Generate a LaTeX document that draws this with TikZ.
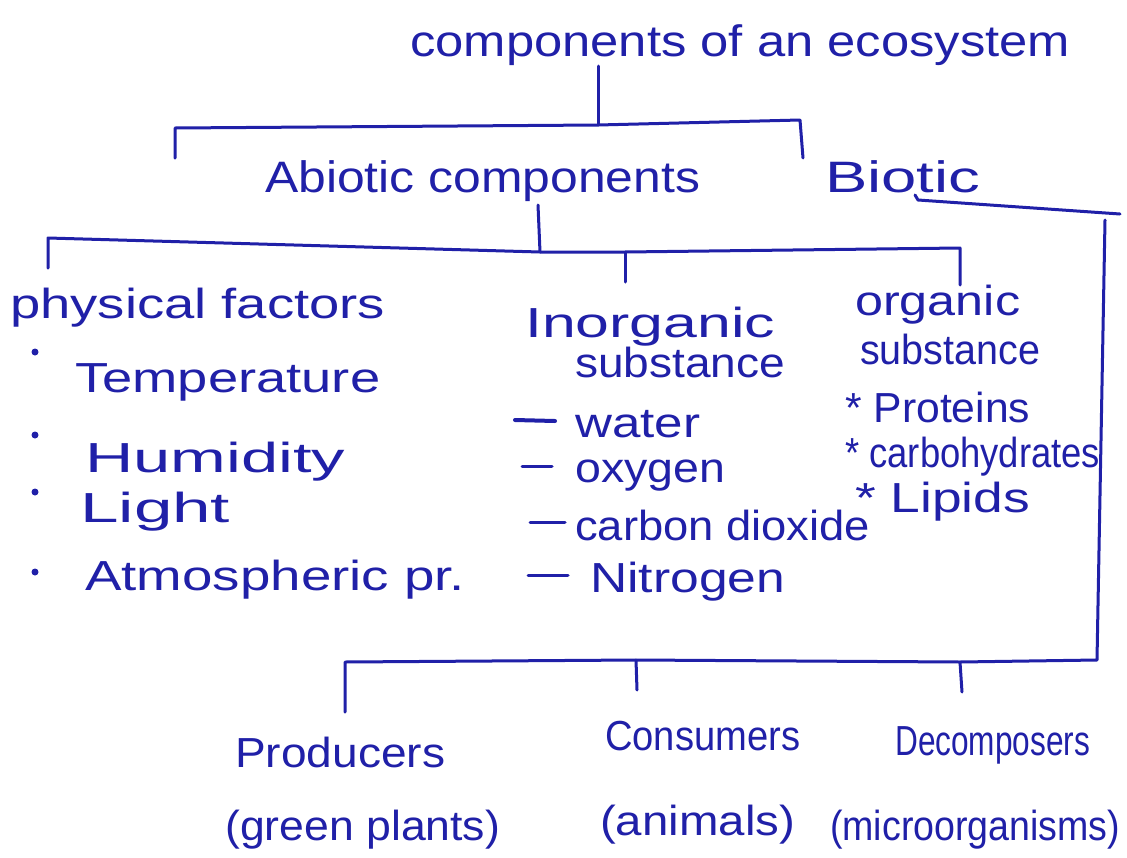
\documentclass[tikz,border=0pt]{standalone}
\usepackage{fontspec}
\setmainfont{Liberation Sans}
\usepackage{graphicx}
\definecolor{ink}{RGB}{32,32,168}
\newcommand\hw[2]{\resizebox{#1pt}{\height}{#2}}
\tikzset{
  lbl/.style={text=ink, inner sep=0pt, anchor=base west, font=\fontsize{42}{42}\selectfont},
  big/.style={lbl, font=\fontsize{44}{44}\selectfont},
  conn/.style={draw=ink, line width=3pt, line cap=round, line join=round},
  dot/.style={circle, fill=ink, inner sep=0pt, minimum size=7pt},
}
\begin{document}
\begin{tikzpicture}[x=1pt,y=-1pt]
\useasboundingbox[fill=white] (0,0) rectangle (1127,857);
% texts
\node[big] (title) at (410,56) {\hw{660}{components of an ecosystem}};
\node[big] (abiotic) at (265,192) {\hw{435}{Abiotic components}};
\node[big] (biotic) at (825,192) {\hw{155}{Biotic}};
\node[lbl] (phys) at (10,318) {\hw{375}{physical factors}};
\node[lbl] (temp) at (75,392) {\hw{305}{Temperature}};
\node[lbl] (hum) at (85,472) {\hw{260}{Humidity}};
\node[lbl] (light) at (80,522) {\hw{150}{Light}};
\node[lbl] (atm) at (85,590) {\hw{380}{Atmospheric pr.}};
\node[lbl] (inorg) at (525,337) {\hw{250}{Inorganic}};
\node[lbl] (subA) at (575,377) {\hw{210}{substance}};
\node[lbl] (water) at (575,437) {\hw{125}{water}};
\node[lbl] (oxy) at (575,482) {\hw{150}{oxygen}};
\node[lbl] (co2) at (575,540) {\hw{295}{carbon dioxide}};
\node[lbl] (nit) at (590,592) {\hw{195}{Nitrogen}};
\node[lbl] (org) at (855,315) {\hw{165}{organic}};
\node[lbl] (subB) at (860,364) {\hw{180}{substance}};
\node[lbl] (prot) at (845,422) {\hw{185}{* Proteins}};
\node[lbl] (carb) at (845,467) {\hw{255}{* carbohydrates}};
\node[lbl] (lip) at (855,512) {\hw{175}{* Lipids}};
\node[lbl] (prod) at (235,767) {\hw{210}{Producers}};
\node[lbl] (green) at (225,840) {\hw{275}{(green plants)}};
\node[lbl] (cons) at (605,750) {\hw{195}{Consumers}};
\node[lbl] (anim) at (600,835) {\hw{195}{(animals)}};
\node[lbl] (dec) at (895,755) {\hw{195}{Decomposers}};
\node[lbl] (micro) at (830,840) {\hw{290}{(microorganisms)}};
% bullets
\node[dot] (b1) at (35,352) {};
\node[dot] (b2) at (35,435) {};
\node[dot] (b3) at (35,492) {};
\node[dot] (b4) at (35,572) {};
% dashes
\coordinate (d1a) at (515,420); \coordinate (d1b) at (555,421);
\coordinate (d2a) at (522,466); \coordinate (d2b) at (552,466);
\coordinate (d3a) at (530,522); \coordinate (d3b) at (565,522);
\coordinate (d4a) at (528,575); \coordinate (d4b) at (568,575);
\draw[conn, line width=4pt] (d1a) -- (d1b);
\draw[conn] (d2a) -- (d2b);
\draw[conn] (d3a) -- (d3b);
\draw[conn] (d4a) -- (d4b);
% top bracket
\coordinate (t0) at (598,66);
\coordinate (t1) at (598,125);
\coordinate (tl) at (175,128); \coordinate (tlb) at (175,158);
\coordinate (tr) at (800,120); \coordinate (trb) at (803,158);
\draw[conn] (t0) -- (t1);
\draw[conn] (tlb) -- (tl) -- (t1) -- (tr) -- (trb);
% abiotic bracket
\coordinate (a0) at (538,205);
\coordinate (a1) at (540,252);
\coordinate (al) at (48,238); \coordinate (alb) at (48,268);
\coordinate (am) at (625,252); \coordinate (amb) at (625,282);
\coordinate (ar) at (960,248); \coordinate (arb) at (960,285);
\draw[conn] (a0) -- (a1);
\draw[conn] (alb) -- (al) -- (a1) -- (am) -- (ar) -- (arb);
\draw[conn] (am) -- (amb);
% biotic line
\coordinate (bi0) at (915,195);
\coordinate (bi1) at (918,200);
\coordinate (bi2) at (1120,214);
\coordinate (bv0) at (1105,220);
\coordinate (bv1) at (1097,660);
\coordinate (bl) at (345,662); \coordinate (blb) at (345,712);
\coordinate (bm) at (636,660); \coordinate (bmb) at (637,690);
\coordinate (br) at (960,662); \coordinate (brb) at (962,692);
\draw[conn] (bi0) -- (bi1) -- (bi2);
\draw[conn] (bv0) -- (bv1) -- (br) -- (bm) -- (bl) -- (blb);
\draw[conn] (bm) -- (bmb);
\draw[conn] (br) -- (brb);
\end{tikzpicture}
\end{document}
